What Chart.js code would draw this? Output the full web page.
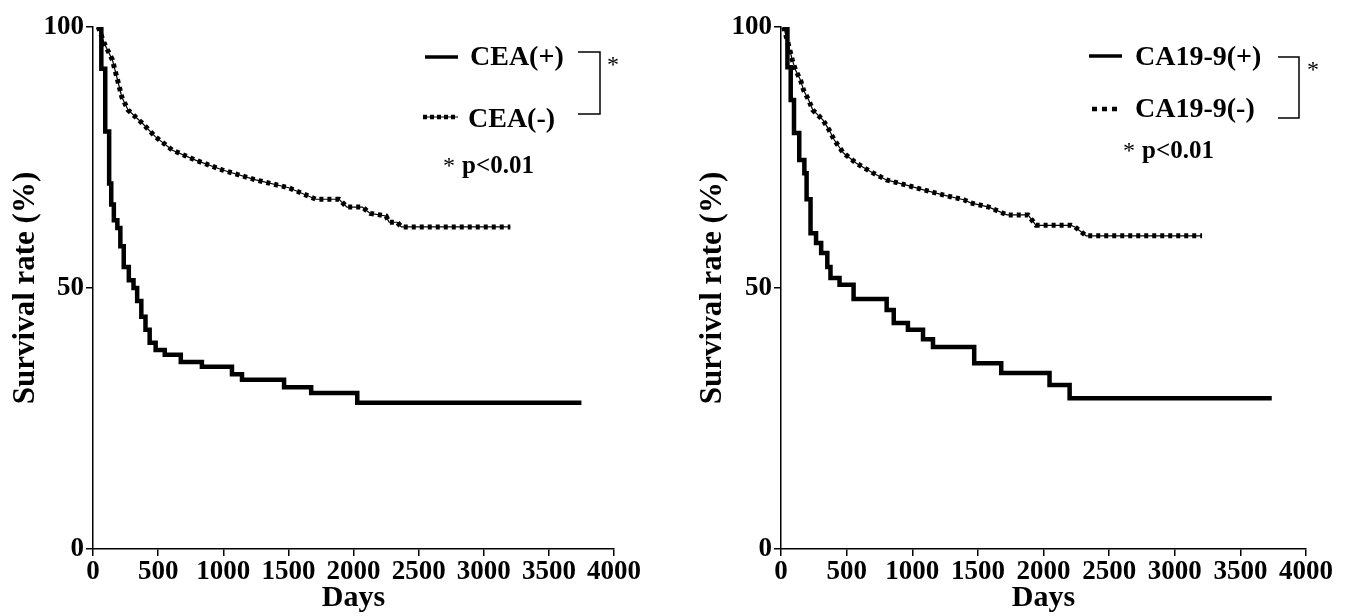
<!DOCTYPE html>
<html><head><meta charset="utf-8">
<script src="https://cdn.jsdelivr.net/npm/chart.js@4/dist/chart.umd.min.js"></script>
<style>
html,body{margin:0;padding:0;background:#fff;}
#wrap{position:relative;width:1346px;height:616px;overflow:hidden;background:#fff;}
canvas{position:absolute;top:0;}
#c1{left:0;} #c2{left:673px;}
</style></head><body>
<div id="wrap"><canvas id="c1" width="673" height="616"></canvas><canvas id="c2" width="673" height="616"></canvas></div>
<script>
// ---- data ----
const ceaPosDays = [30,64,94,124,140,160,187,210,236,275,311,339,371,403,435,481,551,674,836,1067,1144,1467,1675,2029,3750];
const ceaPosSurv = [100,92,80,70,66,63,61.5,58,54,51.5,50,47.5,44.5,42,39.5,38.1,37.2,35.8,34.9,33.5,32.4,31,29.9,28,28];

const ceaNegDays = [40,86,149,189,221,269,377,478,610,787,995,1250,1503,1712,1889,1950,2067,2128,2250,2273,2335,2367,3204];
const ceaNegSurv = [100,96.9,93.7,89.8,86.6,84.1,81.6,79,76.4,74.5,72.6,70.7,69.2,67,67,65.5,65.5,64.3,63.8,62.6,62.6,61.7,61.7];

const caPosDays = [20,49,74,99,139,178,195,225,267,306,353,377,446,553,805,859,967,1082,1158,1472,1678,2046,2199,3739];
const caPosSurv = [100,92.3,86,79.7,74.5,72,67,60.5,58.6,56.7,54,51.9,50.6,47.9,45.8,43.3,42,40.2,38.7,35.6,33.7,31.4,28.9,28.9];

const caNegDays = [20,54,86,110,149,172,211,242,319,366,405,474,574,704,804,956,1086,1240,1393,1445,1584,1722,1882,1943,2210,2240,2325,3208];
const caNegSurv = [100,96.9,93.7,91.8,89.8,87.9,86,84.1,82.2,80.3,78.4,75.9,73.9,72,70.7,69.7,68.8,67.8,66.9,66.3,65.5,64,64,62,62,61.7,60,60];

const xTickValues = [0,500,1000,1500,2000,2500,3000,3500,4000];
const yTickValues = [0,50,100];
const xTitle = 'Days';
const yTitle = 'Survival rate (%)';
const leftLabels = ['CEA(+)','CEA(-)'];
const rightLabels = ['CA19-9(+)','CA19-9(-)'];
const pNote = 'p<0.01';

// ---- helpers ----
const SERIF = '"Liberation Serif", "Times New Roman", serif';
function pts(d, s){ return d.map((v,i)=>({x:v, y:s[i]})); }

function datasets(posD,posS,negD,negS){
  return [
    {data: pts(posD,posS), borderColor:'#000', borderWidth:4.5, stepped:'before', pointRadius:0, fill:false, borderCapStyle:'butt', borderJoinStyle:'miter'},
    {data: pts(negD,negS), borderColor:'#000', borderWidth:1.2, pointRadius:0, fill:false, tension:0},
    {data: pts(negD,negS), borderColor:'#000', borderWidth:5, borderDash:[4,4], pointRadius:0, fill:false, tension:0, borderCapStyle:'butt'}
  ];
}

function legendPlugin(cfg){
  return {
    id:'kmLegend',
    afterDraw(chart){
      const ctx = chart.ctx, o = cfg.off;
      ctx.save();
      ctx.strokeStyle = '#000'; ctx.fillStyle = '#000';
      cfg.items.forEach((it)=>{
        ctx.beginPath();
        ctx.lineWidth = it.dashed ? 4.5 : 3.5;
        ctx.setLineDash(it.dashed ? it.dash : []);
        ctx.moveTo(it.x0 - o, it.y); ctx.lineTo(it.x1 - o, it.y);
        ctx.stroke();
        if (it.dashed && it.thin){
          ctx.setLineDash([]); ctx.lineWidth = 1;
          ctx.beginPath(); ctx.moveTo(it.x0 - o, it.y); ctx.lineTo(it.x1 - o, it.y); ctx.stroke();
        }
        ctx.font = 'bold 28px ' + SERIF;
        ctx.textBaseline = 'alphabetic'; ctx.textAlign = 'left';
        ctx.fillText(it.label, it.tx - o, it.ty);
      });
      ctx.setLineDash([]);
      const b = cfg.bracket;
      ctx.lineWidth = 1.5;
      ctx.beginPath();
      ctx.moveTo(b.x0 - o, b.y0); ctx.lineTo(b.x1 - o, b.y0); ctx.lineTo(b.x1 - o, b.y1); ctx.lineTo(b.x0 - o, b.y1);
      ctx.stroke();
      ctx.font = '24px ' + SERIF;
      ctx.fillText('*', cfg.star.x - o, cfg.star.y);
      ctx.font = '24px ' + SERIF;
      ctx.fillText('*', cfg.p.sx - o, cfg.p.y);
      ctx.font = 'bold 25px ' + SERIF;
      ctx.fillText(pNote, cfg.p.x - o, cfg.p.y);
      ctx.restore();
    }
  };
}

function makeChart(id, ds, axisWidth, rightPad, titlePadTop, legendCfg){
  const tickFont = {family:SERIF, size:27, weight:'bold'};
  return new Chart(document.getElementById(id), {
    type:'line',
    data:{datasets: ds},
    options:{
      responsive:false, animation:false, devicePixelRatio:1,
      layout:{padding:{left:0, top:27, right:rightPad, bottom:0}},
      plugins:{legend:{display:false}, tooltip:{enabled:false}},
      scales:{
        x:{
          type:'linear', min:0, max:4000,
          afterBuildTicks:(s)=>{ s.ticks = xTickValues.map(v=>({value:v})); },
          afterFit:(s)=>{ s.height = 67; },
          grid:{drawOnChartArea:false, drawTicks:true, tickLength:7, color:'#000', lineWidth:1.5},
          border:{display:true, color:'#000', width:1.5},
          ticks:{color:'#000', font:tickFont, padding:0, maxRotation:0, autoSkip:false, callback:(v)=>String(v)},
          title:{display:true, text:xTitle, color:'#000', font:{family:SERIF, size:30, weight:'bold'}, padding:{top:0, bottom:0}}
        },
        y:{
          type:'linear', min:0, max:100,
          afterBuildTicks:(s)=>{ s.ticks = yTickValues.map(v=>({value:v})); },
          afterFit:(s)=>{ s.width = axisWidth; },
          grid:{drawOnChartArea:false, drawTicks:true, tickLength:7, color:'#000', lineWidth:1.5},
          border:{display:true, color:'#000', width:1.5},
          ticks:{color:'#000', font:tickFont, padding:2, callback:(v)=>String(v)},
          title:{display:true, text:yTitle, color:'#000', font:{family:SERIF, size:31, weight:'bold'}, padding:{top:titlePadTop, bottom:0}}
        }
      }
    },
    plugins:[legendPlugin(legendCfg)]
  });
}

makeChart('c1', datasets(ceaPosDays,ceaPosSurv,ceaNegDays,ceaNegSurv), 93, 59, 7, {
  off:0,
  items:[
    {label:leftLabels[0], dashed:false, x0:425, x1:458, y:57, tx:470, ty:65},
    {label:leftLabels[1], dashed:true, thin:true, dash:[4,3], x0:423, x1:458, y:117, tx:468, ty:127}
  ],
  bracket:{x0:578, x1:600, y0:52, y1:114},
  star:{x:607, y:72},
  p:{sx:443, x:462, y:173}
});

makeChart('c2', datasets(caPosDays,caPosSurv,caNegDays,caNegSurv), 108, 40, 21, {
  off:673,
  items:[
    {label:rightLabels[0], dashed:false, x0:1089, x1:1122, y:56, tx:1135, ty:65},
    {label:rightLabels[1], dashed:true, thin:false, dash:[5,5], x0:1092, x1:1122, y:109, tx:1135, ty:117}
  ],
  bracket:{x0:1278, x1:1299, y0:57, y1:118},
  star:{x:1307, y:77},
  p:{sx:1123, x:1142, y:158}
});
</script>
</body></html>
